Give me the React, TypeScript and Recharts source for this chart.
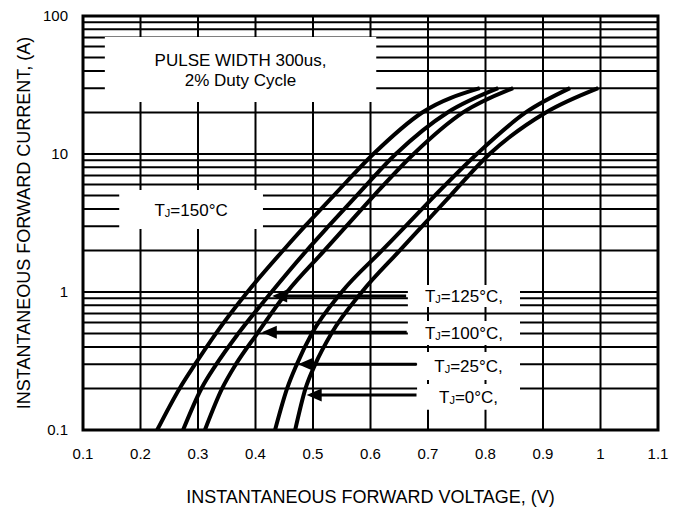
import {
  CartesianGrid,
  Line,
  LineChart,
  ReferenceArea,
  ReferenceDot,
  ReferenceLine,
  XAxis,
  YAxis,
} from 'recharts';

const FONT = '"Liberation Sans", Arial, sans-serif';

// forward current levels (A) and the voltage (V) each curve reaches at them
const amps = [0.1, 0.2, 0.3, 0.5, 1, 2, 3, 5, 10, 20, 30];
const volts150 = [0.229, 0.268, 0.295, 0.331, 0.386, 0.448, 0.486, 0.536, 0.605, 0.69, 0.79];
const volts125 = [0.274, 0.306, 0.332, 0.37, 0.428, 0.489, 0.527, 0.576, 0.644, 0.734, 0.822];
const volts100 = [0.312, 0.342, 0.366, 0.403, 0.455, 0.52, 0.558, 0.606, 0.675, 0.761, 0.848];
const volts25 = [0.434, 0.455, 0.472, 0.498, 0.55, 0.62, 0.661, 0.712, 0.785, 0.87, 0.947];
const volts0 = [0.469, 0.487, 0.504, 0.532, 0.585, 0.651, 0.69, 0.739, 0.807, 0.905, 0.996];

const xTicks = [0.1, 0.2, 0.3, 0.4, 0.5, 0.6, 0.7, 0.8, 0.9, 1, 1.1];
const decades = [0.1, 1, 10];
const yTicks = [
  ...decades.flatMap((d) => [1, 2, 3, 4, 5, 6, 7, 8, 9].map((m) => +(d * m).toPrecision(3))),
  100,
];
const yLabels = ['0.1', '1', '10', '100'];

const toSeries = (vs: number[]) => vs.map((v, k) => ({ v, i: amps[k] }));

const curves = [volts150, volts125, volts100, volts25, volts0].map(toSeries);

// label boxes: [x1, x2, y1, y2, temperature]
const tjBoxes: [number, number, number, number, string][] = [
  [0.665, 0.86, 0.778, 1.124, '125°C,'],
  [0.665, 0.86, 0.413, 0.617, '100°C,'],
  [0.681, 0.86, 0.23, 0.367, '25°C,'],
  [0.681, 0.86, 0.14, 0.215, '0°C,'],
];

// arrows: [from V, to V, current]
const arrows: [number, number, number][] = [
  [0.662, 0.429, 0.935],
  [0.663, 0.411, 0.511],
  [0.68, 0.474, 0.299],
  [0.68, 0.489, 0.179],
];

function TjText({ viewBox, temp }: any) {
  const { x, y, width, height } = viewBox;
  return (
    <text
      x={x + width / 2}
      y={y + height / 2}
      textAnchor="middle"
      dominantBaseline="central"
      fontFamily={FONT}
      fontSize={17}
      fill="#000"
    >
      <tspan>T</tspan>
      <tspan fontSize={11} dy={3}>J</tspan>
      <tspan dy={-3}>={temp}</tspan>
    </text>
  );
}

function PulseText({ viewBox }: any) {
  const { x, y, width, height } = viewBox;
  const cx = x + width / 2;
  const cy = y + height / 2;
  return (
    <text textAnchor="middle" fontFamily={FONT} fontSize={17} fill="#000">
      <tspan x={cx} y={cy - 3}>PULSE WIDTH 300us,</tspan>
      <tspan x={cx} y={cy + 17}>2% Duty Cycle</tspan>
    </text>
  );
}

const arrowHead = (p: any) => (
  <polygon
    points={`${p.cx},${p.cy} ${p.cx + 15},${p.cy - 6.5} ${p.cx + 15},${p.cy + 6.5}`}
    fill="#000"
  />
);

export default function App() {
  return (
    <div style={{ position: 'absolute', left: 0, top: 0, background: '#fff' }}>
      <LineChart
        width={679}
        height={508}
        margin={{ top: 16, right: 21, bottom: 48, left: 0 }}
      >
        <CartesianGrid stroke="#000" strokeWidth={2} />
        <XAxis
          type="number"
          dataKey="v"
          domain={[0.1, 1.1]}
          ticks={xTicks}
          allowDataOverflow
          height={30}
          tickLine={false}
          axisLine={false}
          tickSize={6}
          tickMargin={12}
          tick={{ fill: '#000', fontSize: 15, fontFamily: FONT }}
          label={{
            content: ({ viewBox }: any) => (
              <text
                x={viewBox.x + viewBox.width / 2}
                y={viewBox.y + 67}
                textAnchor="middle"
                dominantBaseline="central"
                fontFamily={FONT}
                fontSize={18}
                fill="#000"
              >
                INSTANTANEOUS FORWARD VOLTAGE, (V)
              </text>
            ),
          }}
        />
        <YAxis
          type="number"
          dataKey="i"
          scale="log"
          domain={[0.1, 100]}
          ticks={yTicks}
          allowDataOverflow
          width={83}
          tickLine={false}
          axisLine={false}
          tickSize={6}
          tickMargin={9}
          interval={0}
          tickFormatter={(t: number) => {
            const s = String(t);
            return yLabels.includes(s) ? s : '';
          }}
          tick={{ fill: '#000', fontSize: 15, fontFamily: FONT }}
          label={{
            content: ({ viewBox }: any) => {
              const cx = viewBox.x + 24;
              const cy = viewBox.y + viewBox.height / 2;
              return (
                <text
                  x={cx}
                  y={cy}
                  transform={`rotate(-90 ${cx} ${cy})`}
                  textAnchor="middle"
                  dominantBaseline="central"
                  fontFamily={FONT}
                  fontSize={18}
                  fill="#000"
                >
                  INSTANTANEOUS FORWARD CURRENT, (A)
                </text>
              );
            },
          }}
        />
        <ReferenceArea
          x1={0.138}
          x2={0.61}
          y1={23.8}
          y2={70.5}
          fill="#fff"
          fillOpacity={1}
          stroke="none"
          label={{ content: (p: any) => <PulseText {...p} /> }}
        />
        <ReferenceArea
          x1={0.163}
          x2={0.413}
          y1={2.86}
          y2={5.48}
          fill="#fff"
          fillOpacity={1}
          stroke="none"
          label={{ content: (p: any) => <TjText {...p} temp="150°C" /> }}
        />
        {tjBoxes.map(([x1, x2, y1, y2, temp]) => (
          <ReferenceArea
            key={temp}
            x1={x1}
            x2={x2}
            y1={y1}
            y2={y2}
            fill="#fff"
            fillOpacity={1}
            stroke="none"
            label={{ content: (p: any) => <TjText {...p} temp={temp} /> }}
          />
        ))}
        {arrows.map(([from, to, y]) => (
          <ReferenceLine
            key={`l${y}`}
            segment={[
              { x: from, y },
              { x: to + 0.02, y },
            ]}
            stroke="#000"
            strokeWidth={3}
          />
        ))}
        {arrows.map(([, to, y]) => (
          <ReferenceDot key={`d${y}`} x={to} y={y} shape={arrowHead} />
        ))}
        <ReferenceArea
          x1={0.1}
          x2={1.1}
          y1={0.1}
          y2={100}
          fill="none"
          stroke="#000"
          strokeWidth={3}
        />
        {curves.map((data, k) => (
          <Line
            key={k}
            data={data}
            dataKey="i"
            type="monotone"
            stroke="#000"
            strokeWidth={4}
            dot={false}
            activeDot={false}
            isAnimationActive={false}
          />
        ))}
      </LineChart>
    </div>
  );
}
